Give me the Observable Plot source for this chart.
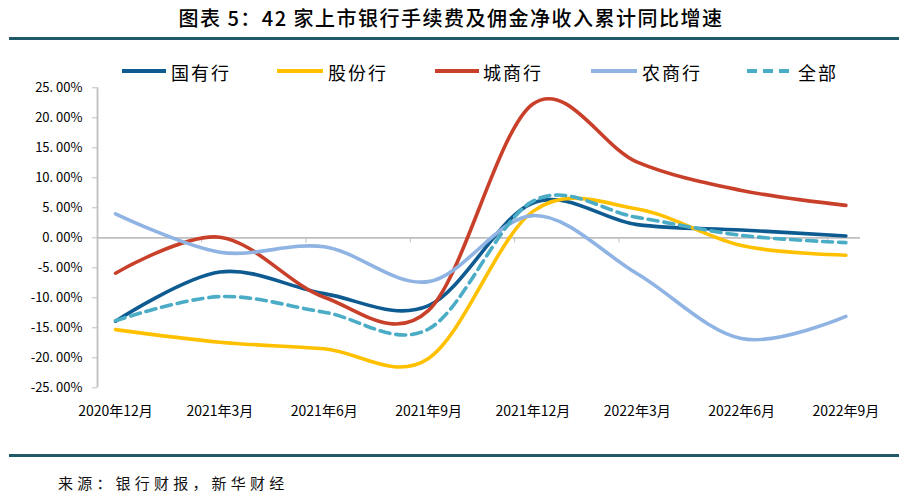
<!DOCTYPE html>
<html>
<head>
<meta charset="utf-8">
<script src="https://cdn.jsdelivr.net/npm/d3@7"></script>
<script src="https://cdn.jsdelivr.net/npm/@observablehq/plot@0.6"></script>
<style>
  html, body { margin: 0; padding: 0; background: #fff; }
  body { width: 902px; height: 498px; position: relative; overflow: hidden;
         font-family: "Noto Sans CJK SC", "Noto Sans", sans-serif; color: #000; }
  #title { position: absolute; left: 0; top: 4px; width: 902px; text-align: center;
           font-size: 20px; font-weight: 500; letter-spacing: 1.5px; line-height: 28px; }
  .rule { position: absolute; left: 9px; width: 890px; height: 3px; background: #215968; }
  #chart { position: absolute; left: 0; top: 45px; }
  #legend { position: absolute; left: 0; top: 58px; width: 902px; height: 28px; }
  .litem { position: absolute; top: 0; height: 28px; }
  .litem svg { position: absolute; top: 10px; }
  .litem span { position: absolute; top: 0; font-size: 18px; line-height: 28px; letter-spacing: 2px; white-space: nowrap; }
  #caption { position: absolute; left: 58px; top: 470px; font-size: 15px; line-height: 26px; letter-spacing: 4.2px; color: #111; }
</style>
</head>
<body>
<div id="title">图表 5：42 家上市银行手续费及佣金净收入累计同比增速</div>
<div class="rule" style="top:37px"></div>
<div id="chart"></div>
<div id="legend"></div>
<div class="rule" style="top:454px"></div>
<div id="caption">来源：银行财报，新华财经</div>
<script>
// ---- data (values in %) ----
const months = ["2020年12月", "2021年3月", "2021年6月", "2021年9月", "2021年12月", "2022年3月", "2022年6月", "2022年9月"];
const seriesNames = ["国有行", "股份行", "城商行", "农商行", "全部"];
const guoyou   = [-13.9, -5.7, -9.3, -11.3, 5.8, 2.2, 1.3, 0.3];
const gufen    = [-15.3, -17.4, -18.5, -20.1, 4.4, 4.8, -1.3, -2.9];
const chengshang = [-5.9, 0.1, -9.9, -12.1, 22.3, 12.6, 7.9, 5.4];
const nongshang  = [4.0, -2.4, -1.5, -7.3, 3.7, -6.0, -16.8, -13.1];
const quanbu   = [-13.8, -9.8, -12.4, -15.2, 6.1, 3.4, 0.4, -0.8];
const yTicks = [-25, -20, -15, -10, -5, 0, 5, 10, 15, 20, 25];

const seriesValues = [guoyou, gufen, chengshang, nongshang, quanbu];
const colors = ["#0e5b92", "#ffc000", "#c9402a", "#8fb4e3", "#4bacc6"];
const dashes = [null, null, null, null, "10,6"];

const table = seriesNames.flatMap((name, s) =>
  seriesValues[s].map((v, i) => ({series: name, i, month: months[i], value: v})));

const xDomain = [-0.173, 7.14];
const catTicks = d3.range(months.length - 1).map(k => k + 0.825);

const fmt = d => (d < 0 ? "-" : "") + Math.abs(d).toFixed(2).replace(".", ". ") + "%";

const lineMarks = seriesNames.map((name, s) =>
  Plot.line(table.filter(d => d.series === name), {
    x: "i", y: "value",
    stroke: colors[s], strokeWidth: 3.6,
    strokeDasharray: dashes[s] || undefined,
    curve: "cardinal", tension: 0,
    strokeLinecap: "round", strokeLinejoin: "round"
  }));

const chart = Plot.plot({
  width: 902, height: 405,
  marginLeft: 97, marginRight: 42, marginTop: 42.3, marginBottom: 62.7,
  x: {type: "linear", domain: xDomain},
  y: {domain: [-25, 25]},
  style: {fontFamily: "'Noto Sans CJK SC', 'Noto Sans', sans-serif", color: "#000", background: "transparent"},
  marks: [
    Plot.ruleY([0], {stroke: "#bfbfbf", strokeWidth: 1.8}),
    Plot.ruleX(catTicks, {y1: 0, y2: -0.85, stroke: "#bfbfbf", strokeWidth: 1}),
    Plot.ruleX([xDomain[0]], {y1: -25, y2: 25, stroke: "#bfbfbf", strokeWidth: 1.8}),
    Plot.axisY({ticks: yTicks, tickFormat: fmt, tickSize: 5, tickPadding: 10,
                stroke: "#bfbfbf", fontSize: 13, label: null}),
    Plot.axisX({ticks: d3.range(months.length), tickFormat: i => months[i], tickSize: 0,
                tickPadding: 18, anchor: "bottom", fontSize: 14, label: null}),
    ...lineMarks
  ]
});
document.getElementById("chart").appendChild(chart);

// ---- legend ----
const legendLayout = [
  {lx: 122, lw: 44, tx: 171},
  {lx: 277, lw: 46, tx: 328},
  {lx: 435, lw: 44, tx: 483},
  {lx: 591, lw: 46, tx: 642},
  {lx: 747, lw: 42, tx: 798}
];
const legend = document.getElementById("legend");
seriesNames.forEach((name, s) => {
  const L = legendLayout[s];
  const item = document.createElement("div");
  item.className = "litem";
  item.style.left = "0px";
  item.innerHTML =
    `<svg width="${L.lw}" height="6" style="left:${L.lx}px"><line x1="0" y1="3" x2="${L.lw}" y2="3" stroke="${colors[s]}" stroke-width="4" ${dashes[s] ? `stroke-dasharray="${dashes[s]}"` : ""}/></svg>` +
    `<span style="left:${L.tx}px">${name}</span>`;
  legend.appendChild(item);
});
</script>
</body>
</html>
